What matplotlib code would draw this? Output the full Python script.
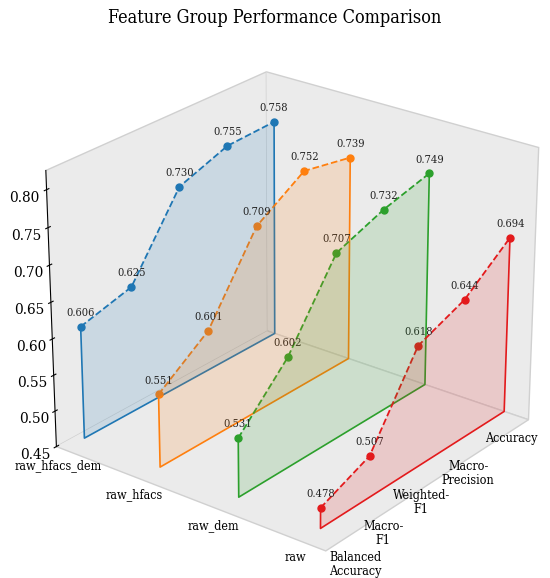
import numpy as np
import matplotlib.pyplot as plt
from mpl_toolkits.mplot3d.art3d import Poly3DCollection

groups = ['raw_hfacs_dem', 'raw_hfacs', 'raw_dem', 'raw']
metrics = ['Balanced\nAccuracy', 'Macro-\nF1', 'Weighted-\nF1', 'Macro-\nPrecision', 'Accuracy']

raw_hfacs_dem = [0.606, 0.625, 0.730, 0.755, 0.758]
raw_hfacs = [0.551, 0.601, 0.709, 0.752, 0.739]
raw_dem = [0.531, 0.602, 0.707, 0.732, 0.749]
raw = [0.478, 0.507, 0.618, 0.644, 0.694]
scores = [raw_hfacs_dem, raw_hfacs, raw_dem, raw]

colors = ['#1f77b4', '#ff7f0e', '#2ca02c', '#e31a1c']
base = 0.45
serif = dict(family='DejaVu Serif', stretch='condensed')

fig = plt.figure(figsize=(5.5, 5.78), dpi=100)
ax = fig.add_subplot(111, projection='3d')
ax.set_position([0.022, -0.03, 1.0, 1.0])
ax.set_box_aspect((4, 4, 3.52), zoom=1.01)

ys = np.arange(len(metrics))
for i, (vals, c) in enumerate(zip(scores, colors)):
    xs = np.full(len(ys), i)
    verts = [(i, y, base) for y in ys] + [(i, y, v) for y, v in zip(ys[::-1], vals[::-1])]
    poly = Poly3DCollection([verts], facecolor=c, alpha=0.16, edgecolor='none')
    ax.add_collection3d(poly)
    # solid outline: left side, bottom, right side
    ax.plot([i, i, i, i], [0, 0, ys[-1], ys[-1]], [vals[0], base, base, vals[-1]], color=c, lw=1.2)
    ax.plot(xs, ys, vals, '--', color=c, lw=1.3)
    ax.plot(xs, ys, vals, 'o', color=c, ms=5)
    for y, v in zip(ys, vals):
        ax.text(i, y, v + 0.012, f'{v:.3f}', ha='center', va='bottom',
                fontsize=8, color='#222222', **serif)

ax.set_xlim(-0.1, 3.3)
ax.set_ylim(-0.4, 3.95)
ax.set_zlim(0.45, 0.825)
ax.set_xticks(range(len(groups)))
ax.set_xticklabels(groups, fontsize=9, **serif)
ax.set_yticks(ys)
ylabels = ax.set_yticklabels(metrics, fontsize=9, linespacing=1.1, ha='right',
                             multialignment='center', **serif)
ylabels[0].set_ha('center')
zt = np.arange(0.45, 0.801, 0.05)
ax.set_zticks(zt)
ax.set_zticklabels([f'{t:.2f}' for t in zt], fontsize=11, **serif)
ax.zaxis.set_ticks_position('lower')
ax.tick_params(axis='x', pad=-3)
ax.tick_params(axis='y', pad=-1)
ax.tick_params(axis='z', pad=1)

for axis in (ax.xaxis, ax.yaxis):
    axis.line.set_color((1, 1, 1, 0))
    axis._axinfo['tick']['inward_factor'] = 0
    axis._axinfo['tick']['outward_factor'] = 0
ax.zaxis._axinfo['tick']['inward_factor'] = 0.12
ax.zaxis._axinfo['tick']['outward_factor'] = 0.12
for axis in (ax.xaxis, ax.yaxis, ax.zaxis):
    axis.set_pane_color((0.92, 0.92, 0.92, 1.0))
    axis._axinfo['grid']['linewidth'] = 0
    axis.pane.set_edgecolor('#d0d0d0')
ax.grid(False)
ax.zaxis.line.set_color('black')

ax.view_init(elev=25, azim=-52)
fig.suptitle('Feature Group Performance Comparison', fontsize=13, y=0.985, **serif)

fig.savefig('out.png', dpi=100)
